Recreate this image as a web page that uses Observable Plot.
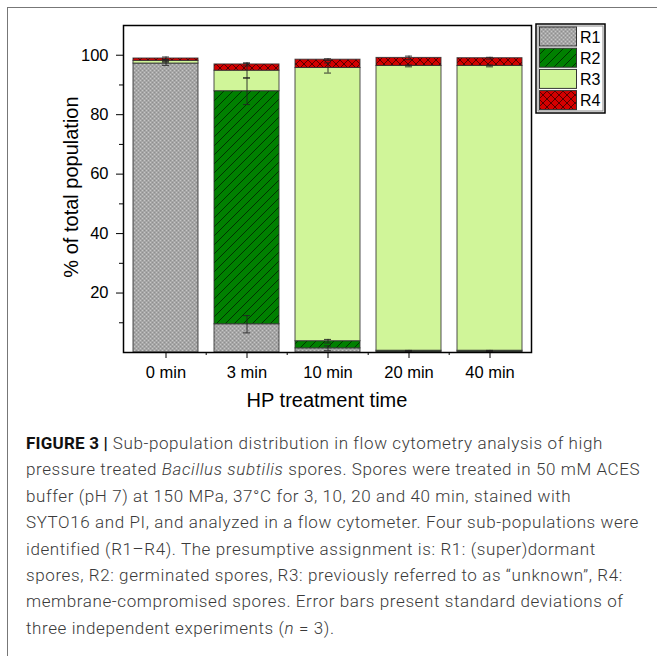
<!DOCTYPE html>
<html>
<head>
<meta charset="utf-8">
<script src="https://cdn.jsdelivr.net/npm/d3@7"></script>
<script src="https://cdn.jsdelivr.net/npm/@observablehq/plot@0.6"></script>
<style>
  html, body { margin: 0; padding: 0; background: #fff; }
  body { width: 657px; height: 656px; position: relative; overflow: hidden; font-family: "Liberation Sans", Arial, sans-serif; }
  #border { position: absolute; left: 7px; top: 7px; width: 800px; height: 800px; border: 1.5px solid #777; box-sizing: border-box; }
  #chart { position: absolute; left: 0; top: 0; }
  #ytitle { position: absolute; left: 71px; top: 187px; transform: translate(-50%, -50%) rotate(-90deg); font-size: 20px; white-space: nowrap; color: #000; }
  #xtitle { position: absolute; left: 327px; top: 389px; transform: translateX(-50%); font-size: 20px; line-height: 23px; white-space: nowrap; color: #000; }
  #legend { position: absolute; left: 535px; top: 23px; }
  #caption { position: absolute; left: 26px; top: 430px; font-family: Roboto, "Liberation Sans", sans-serif; font-weight: 300; font-size: 17px; letter-spacing: 0.6px; line-height: 26.4px; color: #3a3a3a; white-space: nowrap; }
  #caption b { font-weight: 700; color: #111; letter-spacing: 0.2px; }
</style>
</head>
<body>
<svg width="0" height="0" style="position:absolute">
  <defs>
    <pattern id="pR1" patternUnits="userSpaceOnUse" width="4" height="4">
      <rect width="4" height="4" fill="#a6a6a6"/>
      <rect x="0" y="0" width="1" height="1" fill="#c6c6c6"/>
      <rect x="2" y="2" width="1" height="1" fill="#c6c6c6"/>
      <rect x="2" y="0" width="1" height="1" fill="#8e8e8e"/>
      <rect x="0" y="2" width="1" height="1" fill="#8e8e8e"/>
    </pattern>
    <pattern id="pR2" patternUnits="userSpaceOnUse" width="9" height="9">
      <rect width="9" height="9" fill="#008000"/>
      <path d="M0,9L9,0M-1,1L1,-1M8,10L10,8" stroke="#000" stroke-width="0.6"/>
    </pattern>
    <pattern id="pR4" patternUnits="userSpaceOnUse" width="8" height="8">
      <rect width="8" height="8" fill="#d40000"/>
      <path d="M0,0L8,8M0,8L8,0" stroke="#000" stroke-width="0.6"/>
    </pattern>
  </defs>
</svg>
<div id="border"></div>
<div id="chart"></div>
<div id="ytitle">% of total population</div>
<div id="xtitle">HP treatment time</div>
<div id="legend"></div>
<div id="caption">
<b>FIGURE 3 |</b> Sub-population distribution in flow cytometry analysis of high<br>
pressure treated <i>Bacillus subtilis</i> spores. Spores were treated in 50 mM ACES<br>
buffer (pH 7) at 150 MPa, 37°C for 3, 10, 20 and 40 min, stained with<br>
SYTO16 and PI, and analyzed in a flow cytometer. Four sub-populations were<br>
identified (R1–R4). The presumptive assignment is: R1: (super)dormant<br>
spores, R2: germinated spores, R3: previously referred to as “unknown”, R4:<br>
membrane-compromised spores. Error bars present standard deviations of<br>
three independent experiments (<i>n</i> = 3).
</div>
<script>
// ---- data ----
const times = ["0 min", "3 min", "10 min", "20 min", "40 min"];
const series = ["R1", "R2", "R3", "R4"];
const R1 = [97.2, 9.5, 1.4, 0.3, 0.3];
const R2 = [0, 78.4, 2.4, 0.3, 0.3];
const R3 = [0.9, 6.9, 91.9, 95.8, 95.8];
const R4 = [0.8, 2.1, 2.8, 2.7, 2.6];
const R1sd = [0.6, 2.9, 0.8, 0.1, 0.1];
const R2sd = [0, 4.5, 0.6, 0.1, 0.1];
const R3sd = [0.4, 2.5, 1.7, 0.3, 0.3];
const R4sd = [0.5, 0.5, 0.3, 0.6, 0.3];
const yMajor = [20, 40, 60, 80, 100];
const yMinor = [10, 30, 50, 70, 90];

const fills = ["url(#pR1)", "url(#pR2)", "#d0f599", "url(#pR4)"];
const values = [R1, R2, R3, R4];
const sds = [R1sd, R2sd, R3sd, R4sd];

const rows = [];
const errs = [];
times.forEach((t, i) => {
  let cum = 0;
  series.forEach((s, j) => {
    const v = values[j][i];
    rows.push({time: t, series: s, value: v});
    cum += v;
    if (v > 0 && sds[j][i] > 0) errs.push({time: t, series: s, top: cum, lo: cum - sds[j][i], hi: cum + sds[j][i]});
  });
});

const W = 657, H = 400;
const marginLeft = 123, marginRight = 126, marginTop = 25, marginBottom = 48;
const step = (W - marginLeft - marginRight) / times.length;

const plot = Plot.plot({
  width: W, height: H,
  marginLeft, marginRight, marginTop, marginBottom,
  style: {fontFamily: "'Liberation Sans', Arial, sans-serif", fontSize: "16.5px", color: "#000", background: "transparent"},
  x: {type: "band", domain: times, paddingInner: 0.2, paddingOuter: 0.1, label: null},
  y: {domain: [0, 110], label: null},
  color: {type: "ordinal", domain: series, range: fills},
  marks: [
    Plot.barY(rows, Plot.stackY({x: "time", y: "value", fill: "series", order: series, stroke: "#333", strokeWidth: 1, strokeOpacity: 0.85})),
    Plot.ruleX(errs, {x: "time", y1: "lo", y2: "hi", stroke: "#222", strokeWidth: 0.9}),
    Plot.tickY(errs, {x: "time", y: "lo", stroke: "#222", strokeWidth: 0.9, insetLeft: 29, insetRight: 29}),
    Plot.tickY(errs, {x: "time", y: "hi", stroke: "#222", strokeWidth: 0.9, insetLeft: 29, insetRight: 29}),
    Plot.axisY({ticks: yMajor, tickSize: 7, tickPadding: 8, fontSize: 16.5, label: null}),
    Plot.axisY({ticks: yMinor, tickSize: 4, tickFormat: () => "", label: null}),
    Plot.axisX({ticks: times, tickSize: 6, tickPadding: 8, fontSize: 16.5, label: null}),
    Plot.axisX({ticks: times.slice(1), tickSize: 3, tickFormat: () => "", dx: -step / 2, label: null}),
    Plot.frame({stroke: "#000", strokeWidth: 1.5})
  ]
});
document.getElementById("chart").appendChild(plot);

// ---- legend ----
const lg = d3.select("#legend").append("svg").attr("width", 72).attr("height", 92)
  .style("font-family", "'Liberation Sans', Arial, sans-serif");
lg.append("rect").attr("x", 1).attr("y", 1).attr("width", 69).attr("height", 89)
  .attr("fill", "#fff").attr("stroke", "#000").attr("stroke-width", 1.5);
lg.append("rect").attr("x", 3).attr("y", 3).attr("width", 65).attr("height", 85)
  .attr("fill", "none").attr("stroke", "#888").attr("stroke-width", 1);
series.forEach((s, j) => {
  const y = 4 + j * 21.2;
  lg.append("rect").attr("x", 4.5).attr("y", y).attr("width", 37).attr("height", 19)
    .attr("fill", fills[j]).attr("stroke", "#333").attr("stroke-width", 1);
  lg.append("text").attr("x", 45).attr("y", y + 15.5).attr("font-size", 16).text(s);
});
</script>
</body>
</html>
